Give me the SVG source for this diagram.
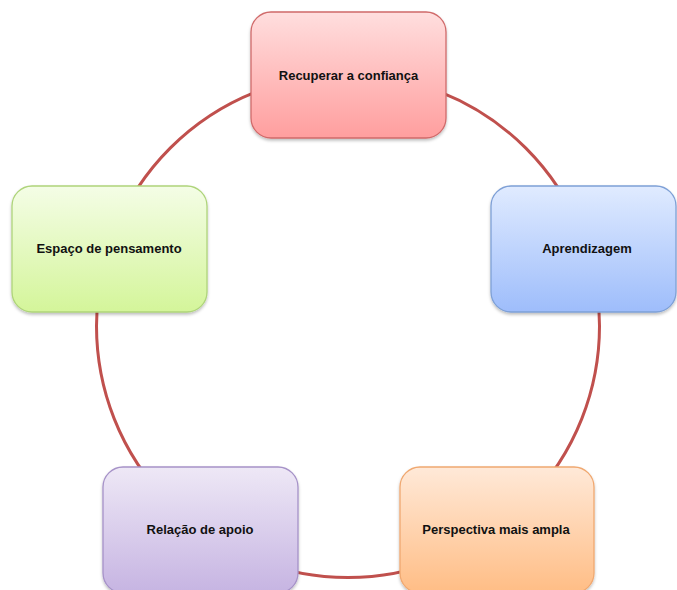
<svg xmlns="http://www.w3.org/2000/svg" width="677" height="590" viewBox="0 0 677 590">
<style>
.lbl{font-family:"Liberation Sans",Arial,sans-serif;font-weight:bold;font-size:13px;fill:#111;text-anchor:middle;dominant-baseline:central}
.box{stroke-width:1.3}
</style>
<defs>
<linearGradient id="gR" x1="0" y1="0" x2="0" y2="1"><stop offset="0" stop-color="#ffdede"/><stop offset="1" stop-color="#ff9e9e"/></linearGradient>
<linearGradient id="gG" x1="0" y1="0" x2="0" y2="1"><stop offset="0" stop-color="#f4fde6"/><stop offset="1" stop-color="#d4f59a"/></linearGradient>
<linearGradient id="gB" x1="0" y1="0" x2="0" y2="1"><stop offset="0" stop-color="#e0ebff"/><stop offset="1" stop-color="#9ebdfb"/></linearGradient>
<linearGradient id="gP" x1="0" y1="0" x2="0" y2="1"><stop offset="0" stop-color="#eee8f6"/><stop offset="1" stop-color="#c6b4e2"/></linearGradient>
<linearGradient id="gO" x1="0" y1="0" x2="0" y2="1"><stop offset="0" stop-color="#ffe9d8"/><stop offset="1" stop-color="#ffbd85"/></linearGradient>
<filter id="sh" x="-10%" y="-10%" width="120%" height="130%"><feDropShadow dx="0" dy="2" stdDeviation="1.5" flood-color="#000" flood-opacity="0.25"/></filter>
</defs>
<rect width="677" height="590" fill="#fff"/>
<g id="connectors">
<circle cx="348" cy="326" r="251.5" fill="none" stroke="#c0504d" stroke-width="3"/>
</g>
<g id="n1"><rect class="box" x="251" y="12" width="195" height="126" rx="20" fill="url(#gR)" stroke="#d06a6a" filter="url(#sh)"/><text class="lbl" x="348.5" y="75">Recuperar a confiança</text></g>
<g id="n2"><rect class="box" x="491" y="186" width="185" height="126" rx="20" fill="url(#gB)" stroke="#7ea0d6" filter="url(#sh)"/><text class="lbl" x="587" y="248">Aprendizagem</text></g>
<g id="n3"><rect class="box" x="400" y="467" width="194" height="126" rx="20" fill="url(#gO)" stroke="#f0a870" filter="url(#sh)"/><text class="lbl" x="496" y="529">Perspectiva mais ampla</text></g>
<g id="n4"><rect class="box" x="103" y="467" width="195" height="126" rx="20" fill="url(#gP)" stroke="#a692c8" filter="url(#sh)"/><text class="lbl" x="200" y="529">Relação de apoio</text></g>
<g id="n5"><rect class="box" x="12" y="186" width="195" height="126" rx="20" fill="url(#gG)" stroke="#aed47a" filter="url(#sh)"/><text class="lbl" x="109" y="248">Espaço de pensamento</text></g>
</svg>
